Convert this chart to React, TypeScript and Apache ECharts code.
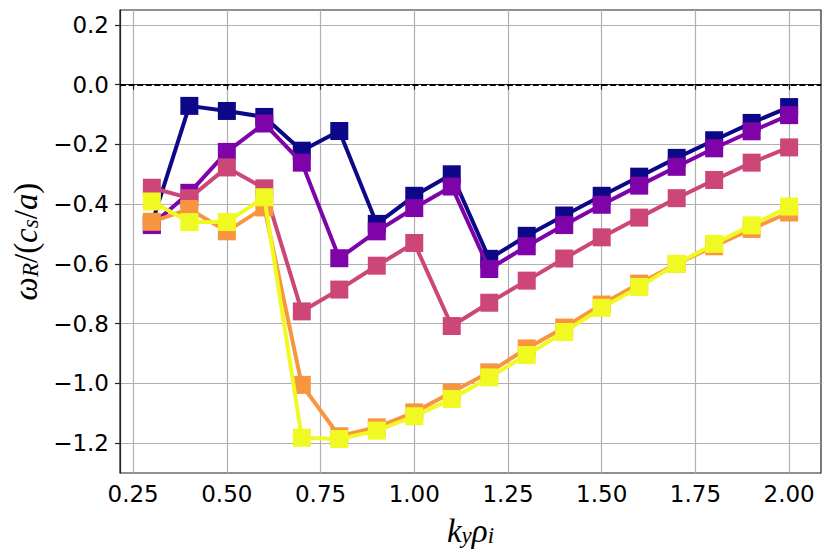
import React, { useEffect, useRef } from "react";
import * as echarts from "echarts";

const kyValues = [0.3, 0.4, 0.5, 0.6, 0.7, 0.8, 0.9, 1.0, 1.1, 1.2, 1.3, 1.4, 1.5, 1.6, 1.7, 1.8, 1.9, 2.0];

const series0 = [-0.465, -0.071, -0.088, -0.108, -0.221, -0.155, -0.466, -0.372, -0.300, -0.583, -0.506, -0.438, -0.372, -0.308, -0.245, -0.186, -0.128, -0.075];
const series1 = [-0.470, -0.362, -0.225, -0.130, -0.261, -0.581, -0.491, -0.413, -0.341, -0.617, -0.541, -0.470, -0.402, -0.338, -0.275, -0.213, -0.156, -0.102];
const series2 = [-0.345, -0.380, -0.277, -0.347, -0.759, -0.686, -0.606, -0.530, -0.808, -0.730, -0.656, -0.582, -0.511, -0.445, -0.380, -0.319, -0.261, -0.210];
const series3 = [-0.459, -0.416, -0.491, -0.411, -1.005, -1.177, -1.147, -1.097, -1.030, -0.963, -0.883, -0.813, -0.736, -0.666, -0.600, -0.541, -0.483, -0.428];
const series4 = [-0.391, -0.460, -0.460, -0.377, -1.182, -1.186, -1.158, -1.110, -1.052, -0.980, -0.905, -0.828, -0.747, -0.677, -0.600, -0.533, -0.471, -0.408];

const allSeries = [series0, series1, series2, series3, series4];
const seriesColors = ["#0d0887", "#7e03a8", "#cc4778", "#f89540", "#f0f921"];

const xTicks = [0.25, 0.5, 0.75, 1.0, 1.25, 1.5, 1.75, 2.0];
const yTicks = [-1.2, -1.0, -0.8, -0.6, -0.4, -0.2, 0.0, 0.2];
const zeroLevel = 0;

const X_MIN = 0.215;
const X_MAX = 2.085;
const Y_MIN = -1.3;
const Y_MAX = 0.25;

const SERIF = "Liberation Serif";
const mathRich = {
  m: { fontFamily: SERIF, fontStyle: "italic", fontSize: 33, lineHeight: 36, color: "#000", verticalAlign: "bottom" },
  u: { fontFamily: SERIF, fontStyle: "normal", fontSize: 33, lineHeight: 36, color: "#000", verticalAlign: "bottom" },
  s: { fontFamily: SERIF, fontStyle: "italic", fontSize: 23, lineHeight: 14, color: "#000", verticalAlign: "bottom" },
};

const zeroLineStyle = { color: "#000", type: [6, 2.6], width: 2.2, opacity: 1 };

export default function App() {
  const ref = useRef<HTMLDivElement>(null);
  useEffect(() => {
    if (!ref.current) return;
    const chart = echarts.init(ref.current, undefined, { renderer: "svg" });
    const tickFont = { fontFamily: "DejaVu Sans", fontSize: 23, color: "#000" };
    chart.setOption({
      animation: false,
      backgroundColor: "#fff",
      grid: {
        left: 120,
        right: 10,
        top: 10,
        bottom: 84,
        show: true,
        borderColor: "#222",
        borderWidth: 1.2,
        backgroundColor: "transparent",
      },
      xAxis: {
        type: "value",
        min: X_MIN,
        max: X_MAX,
        name: "{m|k}{s|y}{m|ρ}{s|i}",
        nameLocation: "middle",
        nameGap: 38,
        nameTextStyle: { rich: mathRich },
        axisLine: { show: true, lineStyle: { color: "#222", width: 1.2 } },
        axisTick: { show: true, length: 5, lineStyle: { color: "#222", width: 1.2 }, customValues: xTicks },
        axisLabel: {
          ...tickFont,
          margin: 9,
          customValues: xTicks,
          formatter: (v: number) => v.toFixed(2),
        },
        splitLine: { show: true, lineStyle: { color: "#b0b0b0", width: 1.2 } },
      },
      yAxis: {
        type: "value",
        min: Y_MIN,
        max: Y_MAX,
        name: "{m|ω}{s|R}{u|/(}{m|c}{s|s}{u|/}{m|a}{u|)}",
        nameLocation: "middle",
        nameGap: 73,
        nameRotate: 90,
        nameTextStyle: { rich: mathRich },
        axisLine: { show: true, lineStyle: { color: "#222", width: 1.2 } },
        axisTick: { show: true, length: 5, lineStyle: { color: "#222", width: 1.2 }, customValues: yTicks },
        axisLabel: {
          ...tickFont,
          margin: 11,
          customValues: yTicks,
          formatter: (v: number) => v.toFixed(1).replace("-", "\u2212"),
        },
        splitLine: { show: true, lineStyle: { color: "#b0b0b0", width: 1.2 } },
      },
      series: allSeries.map((vals, i) => ({
        type: "line",
        data: kyValues.map((x, j) => [x, vals[j]]),
        symbol: "rect",
        symbolSize: 18,
        showAllSymbol: true,
        lineStyle: { color: seriesColors[i], width: 4 },
        itemStyle: { color: seriesColors[i], borderWidth: 0 },
        z: 2 + i,
        markLine:
          i === 0
            ? {
                silent: true,
                symbol: ["none", "none"],
                label: { show: false },
                emphasis: { disabled: true },
                lineStyle: zeroLineStyle,
                data: [{ yAxis: zeroLevel, lineStyle: zeroLineStyle }],
              }
            : undefined,
      })),
    });
    return () => chart.dispose();
  }, []);
  return <div ref={ref} style={{ width: 831, height: 557, position: "absolute", left: 0, top: 0 }} />;
}
